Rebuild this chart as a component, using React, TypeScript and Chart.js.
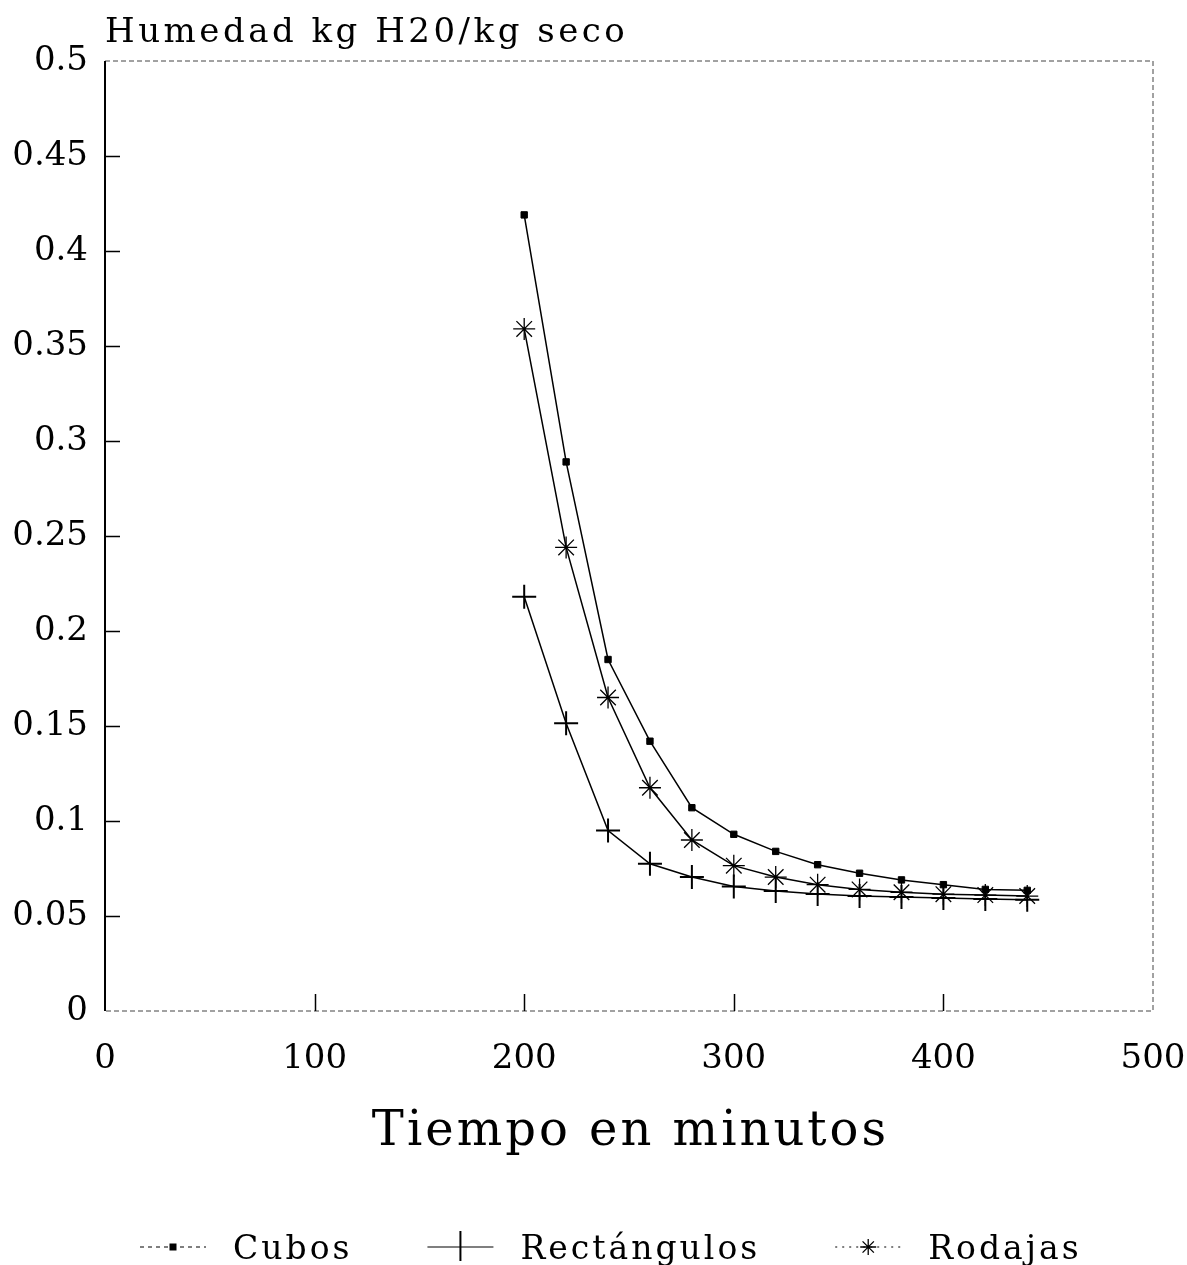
import React, { useEffect, useRef } from 'react';
import { Chart, registerables } from 'chart.js';

Chart.register(...registerables);

// ---- data ----
const timeMinutes = [200, 220, 240, 260, 280, 300, 320, 340, 360, 380, 400, 420, 440];
const cubos = [0.419, 0.289, 0.185, 0.142, 0.107, 0.093, 0.084, 0.077, 0.0725, 0.069, 0.0665, 0.064, 0.0635];
const rectangulos = [0.218, 0.1515, 0.095, 0.0775, 0.0705, 0.0655, 0.0632, 0.0616, 0.0605, 0.06, 0.0595, 0.059, 0.0585];
const rodajas = [0.359, 0.244, 0.165, 0.1175, 0.09, 0.0765, 0.0705, 0.0665, 0.064, 0.0625, 0.0615, 0.061, 0.0605];
const seriesLabels = ['Cubos', 'Rectángulos', 'Rodajas'];
const xTickMarks = [100, 200, 300, 400];
const yTickMarks = [0.05, 0.1, 0.15, 0.2, 0.25, 0.3, 0.35, 0.4, 0.45];
const yAxisTitle = 'Humedad kg H20/kg seco';
const xAxisTitle = 'Tiempo en minutos';

const SERIF = '"DejaVu Serif", "Liberation Serif", serif';

function drawMarker(ctx: CanvasRenderingContext2D, kind: number, x: number, y: number) {
  ctx.save();
  ctx.setLineDash([]);
  ctx.fillStyle = '#000';
  ctx.strokeStyle = '#000';
  if (kind === 0) {
    ctx.fillRect(x - 3.5, y - 3.5, 7, 7);
  } else if (kind === 1) {
    ctx.lineWidth = 2;
    ctx.beginPath();
    ctx.moveTo(x, y - 16);
    ctx.lineTo(x, y + 14);
    ctx.stroke();
  } else {
    ctx.lineWidth = 1.3;
    ctx.beginPath();
    const r = 8;
    for (let i = 0; i < 4; i++) {
      const a = (i * Math.PI) / 4;
      ctx.moveTo(x - Math.sin(a) * r, y - Math.cos(a) * r);
      ctx.lineTo(x + Math.sin(a) * r, y + Math.cos(a) * r);
    }
    ctx.stroke();
  }
  ctx.restore();
}

const framePlugin = {
  id: 'frameAndText',
  afterDraw(chart: any) {
    const { ctx, chartArea: a, scales } = chart;
    const xs = scales.x;
    const ys = scales.y;
    ctx.save();
    // dotted frame (top, right, bottom)
    ctx.strokeStyle = '#444';
    ctx.lineWidth = 1;
    ctx.setLineDash([5, 3]);
    ctx.beginPath();
    ctx.moveTo(a.left, a.top);
    ctx.lineTo(a.right, a.top);
    ctx.lineTo(a.right, a.bottom);
    ctx.lineTo(a.left, a.bottom);
    ctx.stroke();
    ctx.setLineDash([]);
    // solid left axis
    ctx.strokeStyle = '#000';
    ctx.lineWidth = 2;
    ctx.beginPath();
    ctx.moveTo(a.left, a.top);
    ctx.lineTo(a.left, a.bottom);
    ctx.stroke();
    // inward tick marks
    ctx.lineWidth = 1.5;
    ctx.beginPath();
    for (const v of yTickMarks) {
      const py = Math.round(ys.getPixelForValue(v)) + 0.5;
      ctx.moveTo(a.left, py);
      ctx.lineTo(a.left + 15, py);
    }
    for (const v of xTickMarks) {
      const px = Math.round(xs.getPixelForValue(v)) + 0.5;
      ctx.moveTo(px, a.bottom);
      ctx.lineTo(px, a.bottom - 17);
    }
    ctx.stroke();

    // titles
    ctx.fillStyle = '#000';
    ctx.textBaseline = 'alphabetic';
    ctx.textAlign = 'left';
    ctx.font = `34px ${SERIF}`;
    (ctx as any).letterSpacing = '3.5px';
    ctx.fillText(yAxisTitle, a.left, 42);
    ctx.font = `48px ${SERIF}`;
    (ctx as any).letterSpacing = '3px';
    const tw = ctx.measureText(xAxisTitle).width - 3;
    ctx.fillText(xAxisTitle, (a.left + a.right) / 2 - tw / 2, 1145);

    // legend
    ctx.font = `33px ${SERIF}`;
    (ctx as any).letterSpacing = '3px';
    const dashes = [[4, 4], [], [2, 5]];
    let cx = 140;
    const ly = 1247;
    seriesLabels.forEach((label, i) => {
      ctx.save();
      ctx.strokeStyle = '#000';
      ctx.lineWidth = 1.2;
      ctx.setLineDash(dashes[i]);
      ctx.beginPath();
      ctx.moveTo(cx, ly);
      ctx.lineTo(cx + 66, ly);
      ctx.stroke();
      ctx.restore();
      drawMarker(ctx, i, cx + 33, ly);
      const tx = cx + 93;
      ctx.fillText(label, tx, 1259);
      cx = tx + ctx.measureText(label).width + 75;
    });
    ctx.restore();
  },
};

export default function App() {
  const ref = useRef<HTMLCanvasElement | null>(null);
  useEffect(() => {
    if (!ref.current) return;
    const tickFont = { family: SERIF, size: 34 };
    const chart = new Chart(ref.current, {
      type: 'line',
      data: {
        labels: timeMinutes,
        datasets: [
          {
            label: seriesLabels[0],
            data: timeMinutes.map((t, i) => ({ x: t, y: cubos[i] })),
            borderColor: '#000',
            borderWidth: 1.5,
            pointStyle: 'rect',
            pointRadius: 4.5,
            pointBackgroundColor: '#000',
            pointBorderColor: '#000',
            pointBorderWidth: 1,
            tension: 0,
          },
          {
            label: seriesLabels[1],
            data: timeMinutes.map((t, i) => ({ x: t, y: rectangulos[i] })),
            borderColor: '#000',
            borderWidth: 1.5,
            pointStyle: 'cross',
            pointRadius: 12,
            pointBackgroundColor: '#000',
            pointBorderColor: '#000',
            pointBorderWidth: 2,
            tension: 0,
          },
          {
            label: seriesLabels[2],
            data: timeMinutes.map((t, i) => ({ x: t, y: rodajas[i] })),
            borderColor: '#000',
            borderWidth: 1.5,
            pointStyle: 'star',
            pointRadius: 11,
            pointBackgroundColor: '#000',
            pointBorderColor: '#000',
            pointBorderWidth: 1.3,
            tension: 0,
          },
        ],
      },
      options: {
        responsive: false,
        animation: false,
        events: [],
        layout: { padding: { top: 61, right: 34, left: 0, bottom: 0 } },
        plugins: {
          legend: { display: false },
          tooltip: { enabled: false },
          title: { display: false },
        },
        scales: {
          x: {
            type: 'linear',
            min: 0,
            max: 500,
            grid: { display: false, drawTicks: false },
            border: { display: false },
            ticks: {
              stepSize: 100,
              font: tickFont,
              color: '#000',
              padding: 28,
              maxRotation: 0,
              callback: (v: any) => String(v),
            },
            afterFit: (s: any) => {
              s.height = 254;
              s.paddingLeft = 0;
              s.paddingRight = 0;
            },
          },
          y: {
            type: 'linear',
            min: 0,
            max: 0.5,
            grid: { display: false, drawTicks: false },
            border: { display: false },
            ticks: {
              stepSize: 0.05,
              font: tickFont,
              color: '#000',
              padding: 17,
              callback: (v: any) => String(parseFloat(Number(v).toFixed(2))),
            },
            afterFit: (s: any) => {
              s.width = 105;
              s.paddingTop = 0;
              s.paddingBottom = 0;
            },
          },
        },
      },
      plugins: [framePlugin],
    });
    return () => chart.destroy();
  }, []);
  return (
    <div style={{ position: 'absolute', left: 0, top: 0, width: 1187, height: 1265, background: '#fff' }}>
      <canvas ref={ref} width={1187} height={1265} style={{ display: 'block' }} />
    </div>
  );
}
